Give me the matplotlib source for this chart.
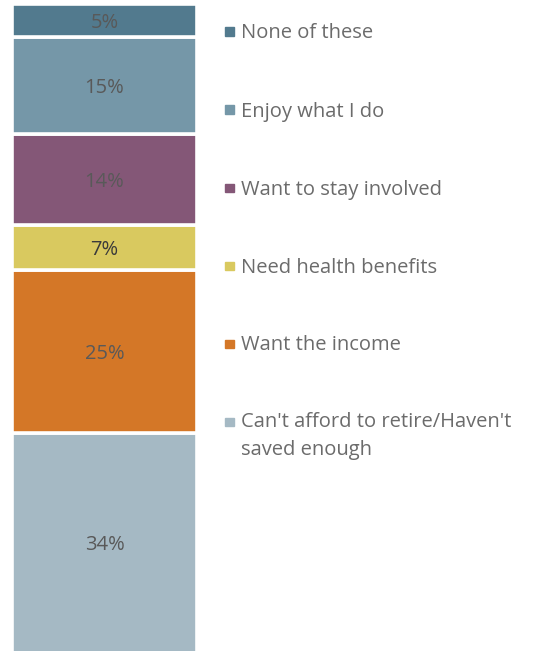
import matplotlib.pyplot as plt
from matplotlib.patches import Rectangle

plt.rcParams['font.family'] = ['Open Sans', 'DejaVu Sans']

# reasons for working, stacked bottom to top
reasons = ["Can't afford to retire/Haven't\nsaved enough", "Want the income",
           "Need health benefits", "Want to stay involved",
           "Enjoy what I do", "None of these"]
shares = [34, 25, 7, 14, 15, 5]
colors = ["#a5b9c4", "#d47727", "#d9c95f", "#845777", "#7597a8", "#527a8e"]
label_colors = ["#595959", "#595959", "#3a3a3a", "#595959", "#595959", "#595959"]

W, H = 533, 651
fig = plt.figure(figsize=(W / 100, H / 100), dpi=100)
ax = fig.add_axes([12 / W, -2 / H, 185 / W, (H - 2.5) / H])

bottom = 0
for share, col, lcol in zip(shares, colors, label_colors):
    ax.bar(0, share, bottom=bottom, width=1, color=col,
           edgecolor="white", linewidth=2.6)
    ax.text(0, bottom + share / 2, f"{share}%", ha="center",
            va="center_baseline", fontsize=14.5, color=lcol)
    bottom += share

ax.set_xlim(-0.5, 0.5)
ax.set_ylim(0, 100)
ax.axis("off")

# legend drawn by hand, top entry first
row_y = [31, 109, 187, 265, 343]
entries = list(zip(reversed(reasons), reversed(colors)))
for (name, col), y in zip(entries[:5], row_y):
    fig.patches.append(Rectangle((225 / W, 1 - (y + 5) / H), 8.5 / W, 8.5 / H,
                                 transform=fig.transFigure, color=col))
    fig.text(241 / W, 1 - y / H, name, ha="left", va="center_baseline",
             fontsize=14.5, color="#6b6b6b")

# last entry wraps onto two lines
name, col = entries[5]
fig.patches.append(Rectangle((225 / W, 1 - 426 / H), 8.5 / W, 8.5 / H,
                             transform=fig.transFigure, color=col))
fig.text(241 / W, 1 - 436 / H, name, ha="left", va="center",
         fontsize=14.5, color="#6b6b6b", linespacing=1.55)

fig.savefig("out.png", dpi=100)
